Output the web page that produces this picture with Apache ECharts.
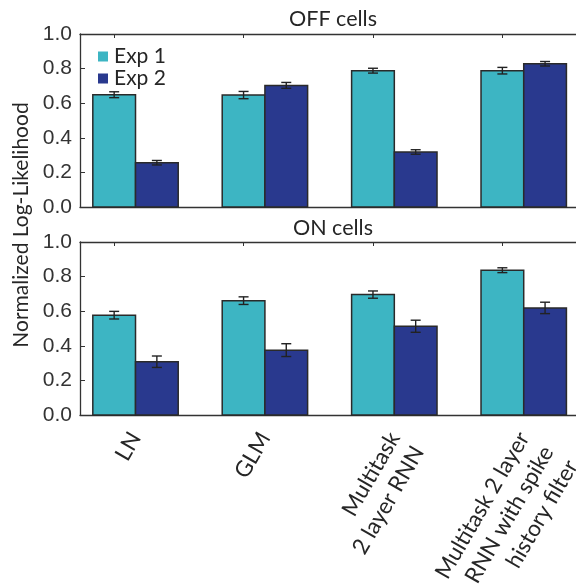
<!DOCTYPE html>
<html>
<head>
<meta charset="utf-8">
<script src="https://cdn.jsdelivr.net/npm/echarts@6/dist/echarts.min.js"></script>
<style>
  html, body { margin: 0; padding: 0; background: #fff; }
  #chart { width: 576px; height: 584px; }
</style>
</head>
<body>
<div id="chart"></div>
<script>
// model names, one per group
const categories = ['LN', 'GLM', 'Multitask\n2 layer RNN', 'Multitask 2 layer\nRNN with spike\nhistory filter']
const seriesNames = ['Exp 1', 'Exp 2']

// OFF cells
const offExp1 = [0.649, 0.647, 0.788, 0.788]
const offExp1Err = [0.017, 0.021, 0.014, 0.019]
const offExp2 = [0.256, 0.703, 0.318, 0.828]
const offExp2Err = [0.013, 0.017, 0.013, 0.013]

// ON cells
const onExp1 = [0.577, 0.661, 0.696, 0.837]
const onExp1Err = [0.022, 0.022, 0.021, 0.014]
const onExp2 = [0.308, 0.375, 0.513, 0.619]
const onExp2Err = [0.033, 0.037, 0.035, 0.033]

const colors = ['#3db5c3', '#29398e']
const BW = 0.33          // bar width in axis units
const XMIN = 0.571
const XMAX = 4.404
const font = 'Lato'
const tickFont = 'Liberation Sans'
const axisColor = '#333'

const groupPos = categories.map((c, i) => i + 1)
const tickPos = groupPos.map(p => +(p - BW / 2).toFixed(3))

function pairs(vals, errs) {
  return vals.map((v, i) => [i + 1, v, errs[i]])
}

function barItem(offset) {
  return function (params, api) {
    const x = api.value(0)
    const v = api.value(1)
    const p0 = api.coord([x + offset, v])
    const p1 = api.coord([x + offset + BW, 0])
    return {
      type: 'rect',
      shape: { x: p0[0], y: p0[1], width: p1[0] - p0[0], height: p1[1] - p0[1] },
      style: { fill: api.visual('color'), stroke: '#2a2a2a', lineWidth: 1.5 }
    }
  }
}

function errItem(offset) {
  return function (params, api) {
    const x = api.value(0) + offset + BW / 2
    const v = api.value(1)
    const e = api.value(2)
    const hi = api.coord([x, v + e])
    const lo = api.coord([x, v - e])
    const cap = 5
    const st = { stroke: '#222', lineWidth: 1.4 }
    return {
      type: 'group',
      children: [
        { type: 'line', shape: { x1: hi[0], y1: hi[1], x2: lo[0], y2: lo[1] }, style: st },
        { type: 'line', shape: { x1: hi[0] - cap, y1: hi[1], x2: hi[0] + cap, y2: hi[1] }, style: st },
        { type: 'line', shape: { x1: lo[0] - cap, y1: lo[1], x2: lo[0] + cap, y2: lo[1] }, style: st }
      ]
    }
  }
}

function xAxisFor(grid, pos, withLabels) {
  return {
    type: 'value',
    gridIndex: grid,
    position: pos,
    min: XMIN,
    max: XMAX,
    splitLine: { show: false },
    axisLine: { show: true, onZero: false, lineStyle: { color: axisColor, width: 1.3 } },
    axisTick: { show: true, inside: true, length: 4, customValues: tickPos, lineStyle: { color: axisColor } },
    axisLabel: withLabels ? {
      show: true,
      customValues: groupPos,
      rotate: 60,
      margin: 19,
      hideOverlap: false,
      showMinLabel: true,
      showMaxLabel: true,
      fontFamily: font,
      fontSize: 22.5,
      lineHeight: 28,
      color: '#262626',
      formatter: function (v) {
        const name = categories[Math.round(v) - 1] || ''
        const n = name.split('\n').length
        // keep the first line on the tick, later lines run below it
        return '\n'.repeat(n - 1) + name
      }
    } : { show: false }
  }
}

function yAxisFor(grid) {
  return {
    type: 'value',
    gridIndex: grid,
    min: 0,
    max: 1,
    interval: 0.2,
    splitLine: { show: false },
    axisLine: { show: true, lineStyle: { color: axisColor, width: 1.3 } },
    axisTick: { show: true, inside: true, length: 5, lineStyle: { color: axisColor } },
    axisLabel: {
      margin: 8,
      fontFamily: tickFont,
      fontSize: 21,
      color: '#333',
      formatter: v => v.toFixed(1)
    }
  }
}

const panels = [
  { exp1: pairs(offExp1, offExp1Err), exp2: pairs(offExp2, offExp2Err) },
  { exp1: pairs(onExp1, onExp1Err), exp2: pairs(onExp2, onExp2Err) }
]

const series = []
panels.forEach((p, k) => {
  const xi = k * 2
  series.push(
    { name: seriesNames[0], type: 'custom', xAxisIndex: xi, yAxisIndex: k, itemStyle: { color: colors[0] }, renderItem: barItem(-BW), data: p.exp1, z: 2 },
    { name: seriesNames[1], type: 'custom', xAxisIndex: xi, yAxisIndex: k, itemStyle: { color: colors[1] }, renderItem: barItem(0), data: p.exp2, z: 2 },
    { name: 'err1', type: 'custom', xAxisIndex: xi, yAxisIndex: k, renderItem: errItem(-BW), data: p.exp1, z: 3 },
    { name: 'err2', type: 'custom', xAxisIndex: xi, yAxisIndex: k, renderItem: errItem(0), data: p.exp2, z: 3 }
  )
})

const chart = echarts.init(document.getElementById('chart'))
chart.setOption({
  animation: false,
  color: colors,
  grid: [
    { left: 80, right: 0, top: 34, height: 173, containLabel: false, outerBoundsMode: 'none' },
    { left: 80, right: 0, top: 242, height: 173, containLabel: false, outerBoundsMode: 'none' }
  ],
  xAxis: [
    xAxisFor(0, 'bottom', false),
    xAxisFor(0, 'top', false),
    xAxisFor(1, 'bottom', true),
    xAxisFor(1, 'top', false)
  ],
  yAxis: [yAxisFor(0), yAxisFor(1)],
  legend: {
    data: seriesNames,
    orient: 'vertical',
    left: 93,
    top: 41,
    icon: 'rect',
    itemWidth: 10,
    itemHeight: 10,
    itemGap: 1,
    selectedMode: false,
    itemStyle: { borderWidth: 0 },
    textStyle: { fontFamily: font, fontSize: 21, color: '#262626', padding: [0, 0, 0, 1] }
  },
  graphic: [
    { type: 'text', x: 333, y: 19, style: { text: 'OFF cells', font: '21.5px Lato', fill: '#262626', align: 'center', verticalAlign: 'middle' } },
    { type: 'text', x: 333, y: 228, style: { text: 'ON cells', font: '21.5px Lato', fill: '#262626', align: 'center', verticalAlign: 'middle' } },
    { type: 'text', x: 21, y: 225, rotation: Math.PI / 2, style: { text: 'Normalized Log-Likelihood', font: '21px Lato', fill: '#262626', align: 'center', verticalAlign: 'middle' } }
  ],
  series: series
})
</script>
</body>
</html>
